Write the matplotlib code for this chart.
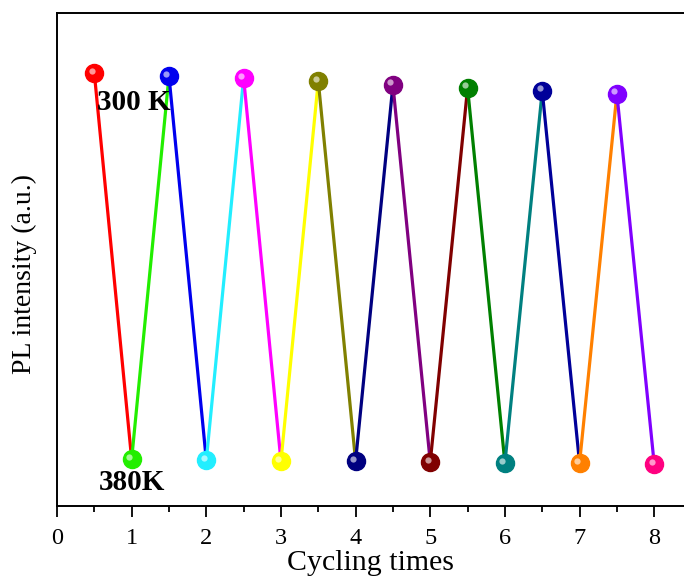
import matplotlib
matplotlib.use("Agg")
import matplotlib.pyplot as plt
from matplotlib.ticker import MultipleLocator
import matplotlib.transforms as mtransforms

cycles = [0.5, 1, 1.5, 2, 2.5, 3, 3.5, 4, 4.5, 5, 5.5, 6, 6.5, 7, 7.5, 8]
intensity = [0.878, 0.095, 0.872, 0.093, 0.868, 0.091, 0.862, 0.091,
             0.854, 0.089, 0.848, 0.087, 0.842, 0.087, 0.836, 0.085]
colors = ["#ff0000", "#22ee00", "#0000ee", "#22eeff", "#ff00ff", "#ffff00",
          "#808000", "#000080", "#800080", "#800000", "#008000", "#008080",
          "#000099", "#ff8000", "#8000ff", "#ff0080"]
xticks = [0, 1, 2, 3, 4, 5, 6, 7, 8]
label_hi = "300 K"
label_lo = "380K"

plt.rcParams['font.family'] = ['Liberation Serif', 'DejaVu Serif']

fig = plt.figure(figsize=(6.84, 5.86), dpi=100)
ax = fig.add_axes([57/684, 80/586, 642/684, 493/586])

for i in range(len(cycles) - 1):
    ax.plot(cycles[i:i+2], intensity[i:i+2], color=colors[i], lw=2.3,
            solid_capstyle='butt', zorder=2)

hl = mtransforms.offset_copy(ax.transData, fig=fig, x=-2.5, y=2.5, units='dots')
for x, y, c in zip(cycles, intensity, colors):
    ax.plot([x], [y], 'o', ms=13, color=c, mec=c, zorder=3)
    ax.plot([x], [y], 'o', ms=4.5, color='white', mec='none', alpha=0.6,
            transform=hl, zorder=4)

ax.text(0.54, 0.818, label_hi, fontsize=21, fontweight='bold', va='center', ha='left')
ax.text(0.56, 0.047, label_lo, fontsize=21, fontweight='bold', va='center', ha='left')

ax.set_xlim(0, 8.6)
ax.set_ylim(0, 1)
ax.set_xticks(xticks)
ax.xaxis.set_minor_locator(MultipleLocator(0.5))
ax.set_yticks([])
ax.tick_params(axis='x', which='major', direction='out', length=8, width=1.3,
               labelsize=17.5, pad=8)
ax.tick_params(axis='x', which='minor', direction='out', length=4, width=1.3)
for s in ax.spines.values():
    s.set_linewidth(1.4)
ax.spines['right'].set_visible(False)

ax.set_xlabel("Cycling times", fontsize=21.5)
ax.set_ylabel("PL intensity (a.u.)", fontsize=20)
ax.xaxis.set_label_coords(0.489, -0.09)
ax.yaxis.set_label_coords(-0.031, 0.47)

fig.savefig("out.png", dpi=100)
